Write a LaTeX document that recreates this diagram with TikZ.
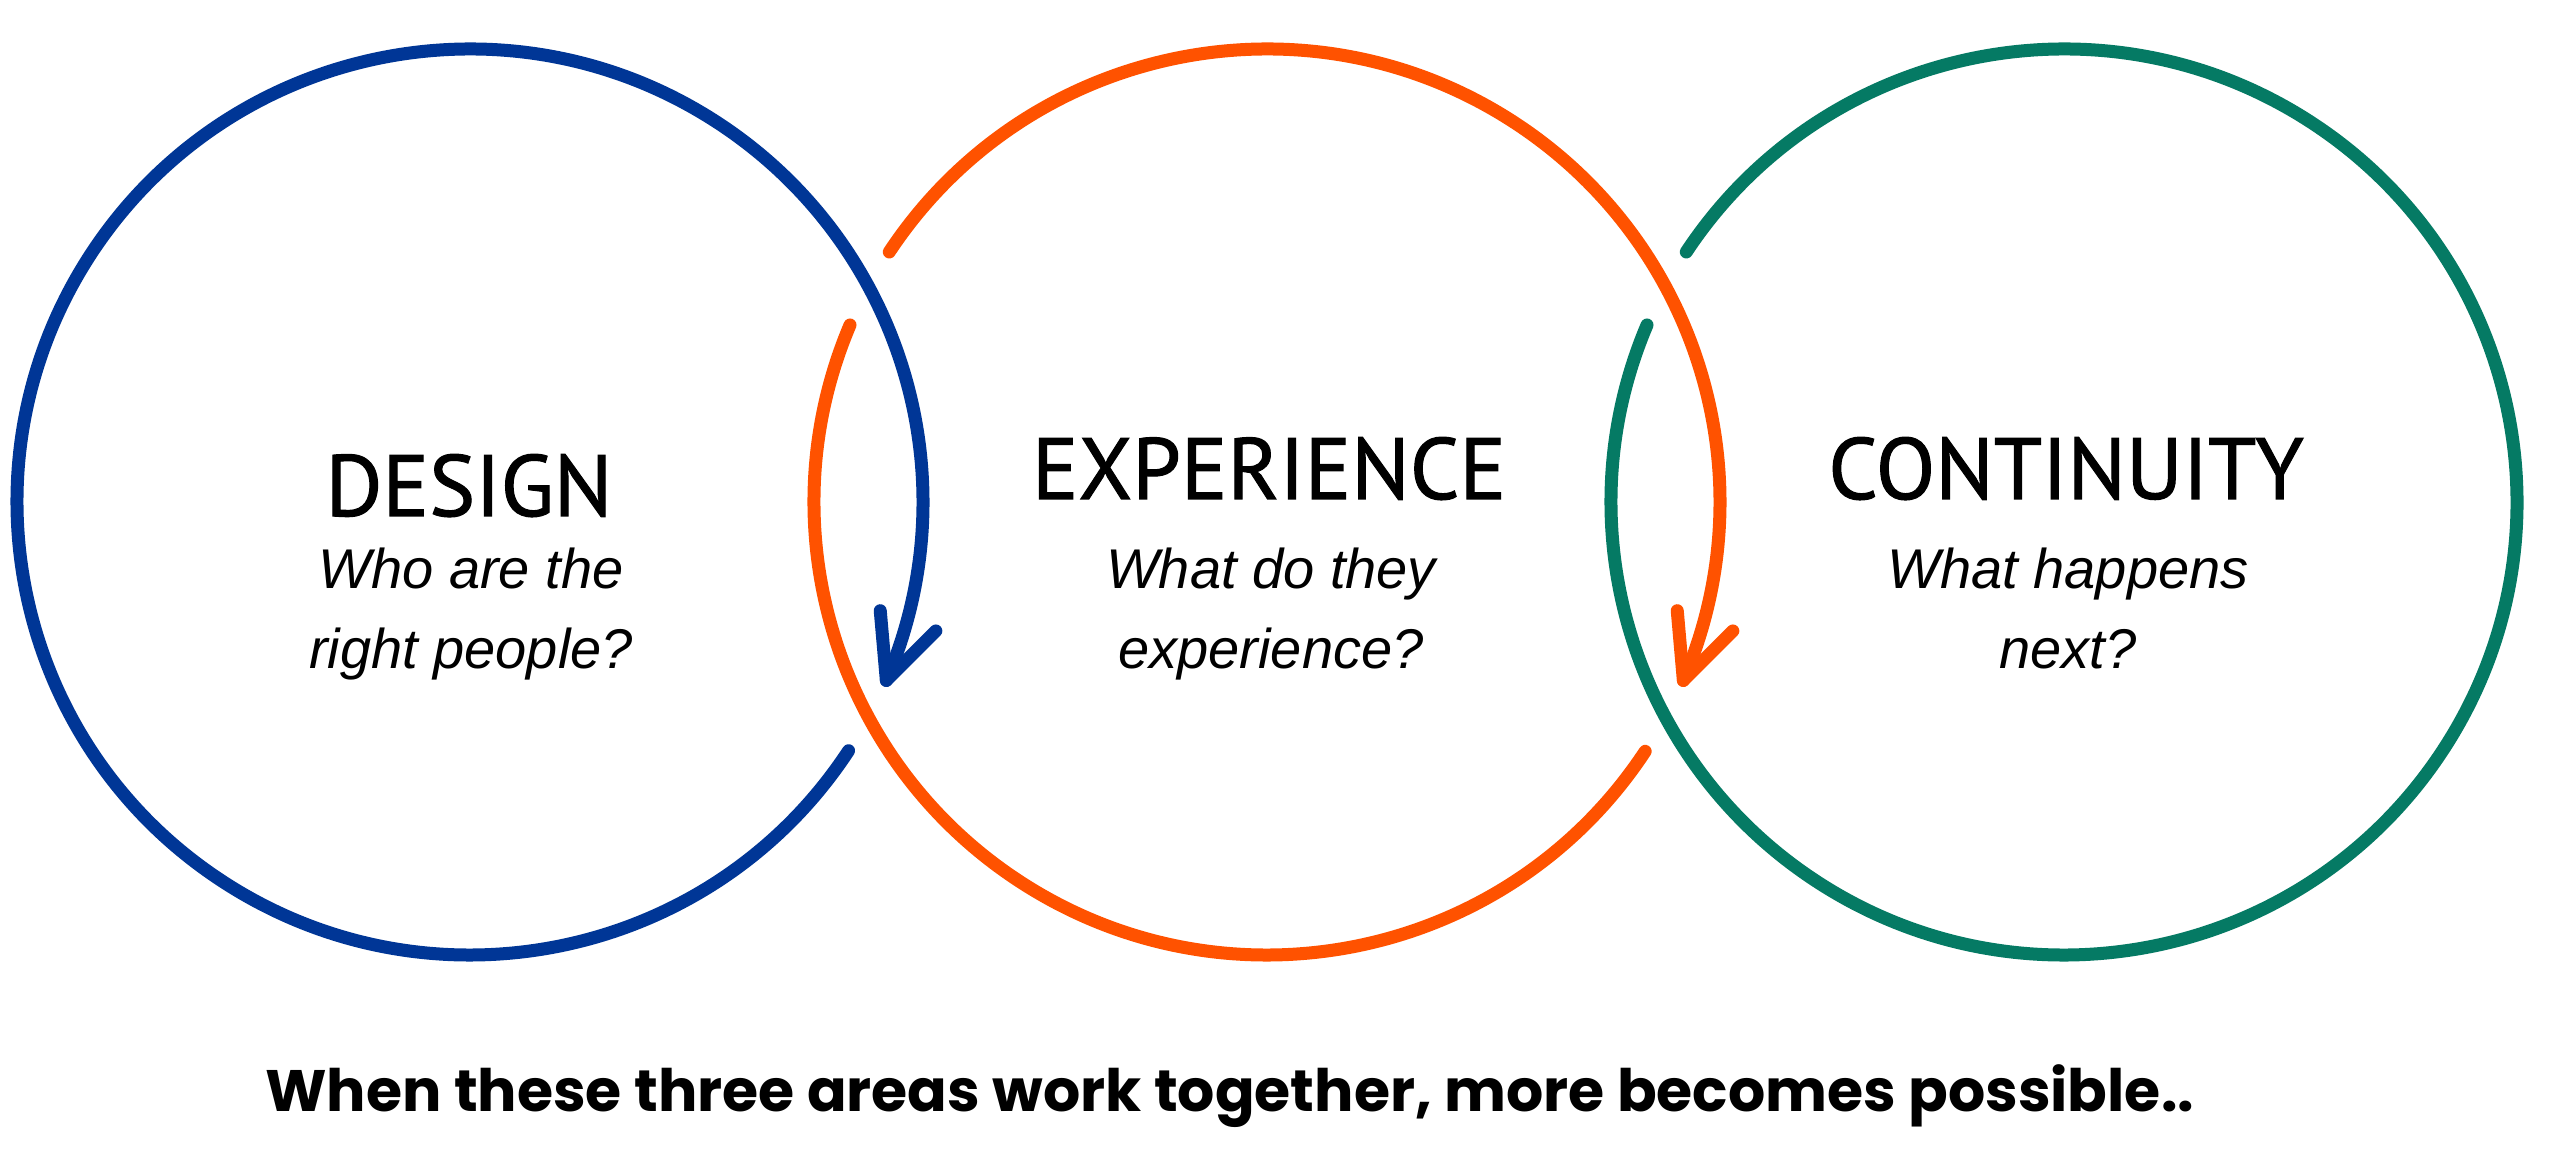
\documentclass[tikz,border=0pt]{standalone}
\usepackage{fontspec}
\setmainfont{Liberation Sans}
\newfontfamily\headfont{PT Sans}[FakeBold=1.2]
\newfontfamily\botfont{Poppins}
\definecolor{cblue}{RGB}{0,54,150}
\definecolor{corange}{RGB}{255,82,0}
\definecolor{cgreen}{RGB}{5,122,100}
\begin{document}
\begin{tikzpicture}[x=1pt,y=1pt,
  ring/.style={line width=13pt, line cap=round, line join=round},
  head/.style={font=\headfont\fontsize{87}{96}\selectfont, inner sep=0pt, anchor=base},
  quest/.style={font=\itshape\fontsize{56}{60}\selectfont, inner sep=0pt, anchor=base},
  foot/.style={font=\botfont\bfseries\fontsize{58.5}{66}\selectfont, inner sep=0pt, anchor=base west}]
\useasboundingbox (0,0) rectangle (2560,1154);
\fill[white] (0,0) rectangle (2560,1154);
\coordinate (cL) at (470,652);
\coordinate (cM) at (1267,652);
\coordinate (cR) at (2064,652);
\def\rr{453}
% blue ring with arrow
\draw[ring, cblue] ([shift={(326.7:\rr)}]cL) arc[start angle=326.7, end angle=-23.2, radius=\rr] coordinate (tipB);
\draw[ring, cblue] ([shift={(95:70)}]tipB) -- (tipB) -- ([shift={(45:70)}]tipB);
% orange ring
\draw[ring, corange] ([shift={(146.5:\rr)}]cM) arc[start angle=146.5, end angle=-23.2, radius=\rr] coordinate (tipO);
\draw[ring, corange] ([shift={(95:70)}]tipO) -- (tipO) -- ([shift={(45:70)}]tipO);
\draw[ring, corange] ([shift={(-33.4:\rr)}]cM) arc[start angle=-33.4, end angle=-203, radius=\rr];
% green ring
\draw[ring, cgreen] ([shift={(146.5:\rr)}]cR) arc[start angle=146.5, end angle=-203, radius=\rr];
% texts
\node[head] (tD) at (469,638) {DESIGN};
\node[head] (tE) at (1269,655) {EXPERIENCE};
\node[head] (tC) at (2066,655) {CONTINUITY};
\node[quest] (qD1) at (471,565) {Who are the};
\node[quest] (qD2) at (471,485) {right people?};
\node[quest] (qE1) at (1271,565) {What do they};
\node[quest] (qE2) at (1271,485) {experience?};
\node[quest] (qC1) at (2068,565) {What happens};
\node[quest] (qC2) at (2068,485) {next?};
\node[foot] (ft) at (265,42) {When these three areas work together, more becomes possible..};
\end{tikzpicture}
\end{document}
